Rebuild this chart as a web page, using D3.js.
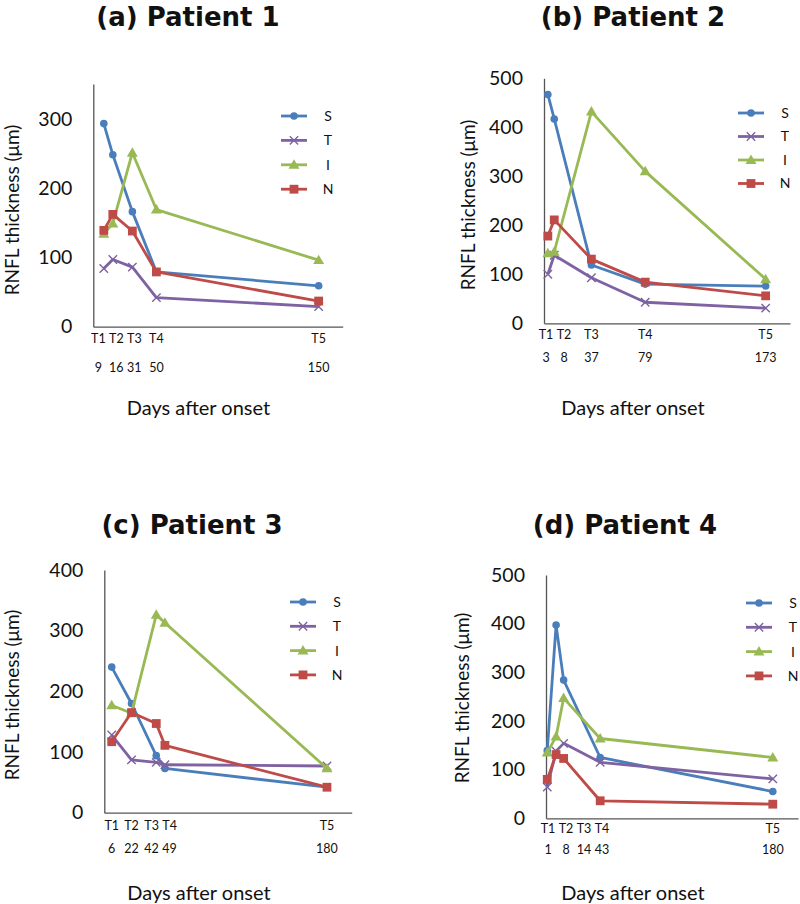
<!DOCTYPE html>
<html><head><meta charset="utf-8">
<script src="https://cdn.jsdelivr.net/npm/d3@7"></script>
<style>
body{margin:0;background:#fff}
svg text{font-family:Lato,"Open Sans",sans-serif;fill:#111}
</style>
</head><body>
<svg id="chart" width="800" height="904"></svg>
<script>
// ---------- data ----------
const titles = ["(a) Patient 1", "(b) Patient 2", "(c) Patient 3", "(d) Patient 4"];
const seriesNames = ["S", "T", "I", "N"];
const timepoints = ["T1", "T2", "T3", "T4", "T5"];

const daysA = ["9", "16", "31", "50", "150"];
const daysB = ["3", "8", "37", "79", "173"];
const daysC = ["6", "22", "42", "49", "180"];
const daysD = ["1", "8", "14", "43", "180"];

// plotted x positions (days axis units)
const xA = [7, 13, 26, 42, 150];
const xB = [3, 8, 37, 79, 173];
const xC = [6, 22, 42, 49, 180];
const xD = [1, 8, 14, 43, 180];

const xMaxA = 166, xMaxB = 192, xMaxC = 200, xMaxD = 200;
const yMaxA = 350, yMaxB = 500, yMaxC = 400, yMaxD = 500;
const yTicksA = [0, 100, 200, 300];
const yTicksB = [0, 100, 200, 300, 400, 500];
const yTicksC = [0, 100, 200, 300, 400];
const yTicksD = [0, 100, 200, 300, 400, 500];

const sA = [293, 248, 166, 79, 59];
const tA = [84, 97, 86, 42, 29];
const iA = [134, 149, 251, 169, 96];
const nA = [139, 162, 138, 79, 37];

const sB = [467, 417, 119, 80, 76];
const tB = [100, 139, 93, 43, 31];
const iB = [143, 146, 432, 310, 90];
const nB = [178, 211, 131, 84, 56];

const sC = [240, 180, 94, 73, 42];
const tC = [128, 87, 83, 79, 77];
const iC = [177, 164, 326, 313, 73];
const nC = [117, 165, 147, 111, 42];

const sD = [139, 397, 284, 125, 55];
const tD = [64, 138, 154, 115, 81];
const iD = [135, 168, 247, 164, 125];
const nD = [80, 131, 123, 36, 29];

const yTitle = "RNFL thickness (\u03bcm)";
const xTitle = "Days after onset";

// ---------- styling / layout ----------
const colors = {S: "#4A7EBB", T: "#7E62A1", I: "#98B954", N: "#BE4B48"};
const markers = {S: "circle", T: "x", I: "triangle", N: "square"};

const layout = [
  {left: 93.3, right: 342.7, zero: 326.7, top: 84.1, titleX: 188, titleY: 26, yTitleX: 12, yTitleY: 210,
   tRow: 12.3, dRow: 41.3, xtY: 81, xtX: 198.5, legX: 281, legY: 116, legDy: 24.4},
  {left: 544, right: 790, zero: 323.3, top: 78.3, titleX: 633, titleY: 26, yTitleX: 468, yTitleY: 205,
   tRow: 11.7, dRow: 34.7, xtY: 85, xtX: 633, legX: 738, legY: 113, legDy: 23.5},
  {left: 104.3, right: 351.7, zero: 812.7, top: 570, titleX: 192, titleY: 534, yTitleX: 12, yTitleY: 695,
   tRow: 13.3, dRow: 36.3, xtY: 80, xtX: 199, legX: 290, legY: 602, legDy: 24.3},
  {left: 546, right: 798, zero: 818.3, top: 575, titleX: 625, titleY: 534, yTitleX: 462, yTitleY: 698,
   tRow: 10.7, dRow: 31.7, xtY: 75, xtX: 633, legX: 746, legY: 603, legDy: 24.3}
];

const panels = [
  {x: xA, xMax: xMaxA, yMax: yMaxA, ticks: yTicksA, days: daysA, series: [sA, tA, iA, nA]},
  {x: xB, xMax: xMaxB, yMax: yMaxB, ticks: yTicksB, days: daysB, series: [sB, tB, iB, nB]},
  {x: xC, xMax: xMaxC, yMax: yMaxC, ticks: yTicksC, days: daysC, series: [sC, tC, iC, nC]},
  {x: xD, xMax: xMaxD, yMax: yMaxD, ticks: yTicksD, days: daysD, series: [sD, tD, iD, nD]}
];

const svg = d3.select("#chart");

function drawMarker(g, type, color, x, y) {
  if (type === "circle") {
    g.append("circle").attr("cx", x).attr("cy", y).attr("r", 3.8).attr("fill", color);
  } else if (type === "square") {
    g.append("rect").attr("x", x - 4.4).attr("y", y - 4.4).attr("width", 8.8).attr("height", 8.8).attr("fill", color);
  } else if (type === "triangle") {
    g.append("path").attr("d", d3.symbol(d3.symbolTriangle, 52)()).attr("transform", `translate(${x},${y + 0.8})`).attr("fill", color);
  } else if (type === "x") {
    g.append("path").attr("d", "M-4.2,-4.2L4.2,4.2M-4.2,4.2L4.2,-4.2").attr("transform", `translate(${x},${y})`)
      .attr("stroke", color).attr("stroke-width", 1.4).attr("fill", "none");
  }
}

// spread overlapping labels around their anchors, keep first label right of axis
function spreadLabels(anchors, gap, minX) {
  let clusters = [];
  anchors.forEach(a => {
    clusters.push({n: 1, sum: a, start: a});
    while (clusters.length > 1) {
      const c = clusters[clusters.length - 1], prev = clusters[clusters.length - 2];
      if (prev.start + (prev.n - 1) * gap + gap > c.start) {
        const merged = {n: prev.n + c.n, sum: prev.sum + c.sum};
        merged.start = merged.sum / merged.n - (merged.n - 1) * gap / 2;
        clusters.splice(-2, 2, merged);
      } else break;
    }
  });
  const out = [];
  let prevEnd = -Infinity;
  clusters.forEach((c, ci) => {
    let s = c.start;
    if (ci === 0 && s < minX) s = minX;
    if (s < prevEnd + gap) s = prevEnd + gap;
    for (let k = 0; k < c.n; k++) out.push(s + k * gap);
    prevEnd = out[out.length - 1];
  });
  return out;
}

panels.forEach((p, pi) => {
  const L = layout[pi];
  const g = svg.append("g");
  const x = d3.scaleLinear().domain([0, p.xMax]).range([L.left, L.right]);
  const y = d3.scaleLinear().domain([0, p.yMax]).range([L.zero, L.top]);

  // title
  g.append("text").attr("x", L.titleX).attr("y", L.titleY).attr("text-anchor", "middle")
    .style("font-family", "'DejaVu Sans', sans-serif")
    .style("font-weight", 700).style("font-size", "26px").text(titles[pi]);

  // axes
  const yAxis = d3.axisLeft(y).tickValues(p.ticks).tickSize(0).tickPadding(21);
  const ga = g.append("g").attr("transform", `translate(${L.left},0)`).call(yAxis);
  ga.select(".domain").attr("stroke", "#555").attr("stroke-width", 1.3);
  ga.selectAll("text").style("font-size", "19.5px").style("font-family", "Lato, 'Open Sans', sans-serif").attr("fill", "#111");

  const xAxis = d3.axisBottom(x).tickValues([]).tickSize(0);
  const gx = g.append("g").attr("transform", `translate(0,${L.zero})`).call(xAxis);
  gx.select(".domain").attr("stroke", "#555").attr("stroke-width", 1.3);

  // y title
  g.append("text").attr("transform", `translate(${L.yTitleX},${L.yTitleY}) rotate(-90)`)
    .attr("text-anchor", "middle").attr("dy", "0.35em").style("font-size", "19px").text(yTitle);

  // timepoint / day labels
  const lx = spreadLabels(p.x.map(v => x(v)), 18, L.left + 2);
  timepoints.forEach((t, i) => {
    g.append("text").attr("x", lx[i]).attr("y", L.zero + L.tRow).attr("dy", "0.35em")
      .attr("text-anchor", "middle").style("font-size", "12.5px").text(t);
    g.append("text").attr("x", lx[i]).attr("y", L.zero + L.dRow).attr("dy", "0.35em")
      .attr("text-anchor", "middle").style("font-size", "12.5px").text(p.days[i]);
  });

  g.append("text").attr("x", L.xtX).attr("y", L.zero + L.xtY).attr("dy", "0.35em")
    .attr("text-anchor", "middle").style("font-size", "20px").text(xTitle);

  // series
  const line = d3.line().x((d, i) => x(p.x[i])).y(d => y(d));
  p.series.forEach((vals, si) => {
    const name = seriesNames[si];
    const c = colors[name];
    g.append("path").datum(vals).attr("d", line).attr("fill", "none")
      .attr("stroke", c).attr("stroke-width", 2.8).attr("stroke-linejoin", "round");
    const mg = g.append("g");
    vals.forEach((v, i) => drawMarker(mg, markers[name], c, x(p.x[i]), y(v)));
  });

  // legend
  seriesNames.forEach((name, si) => {
    const ly = L.legY + si * L.legDy;
    const c = colors[name];
    g.append("line").attr("x1", L.legX).attr("x2", L.legX + 26).attr("y1", ly).attr("y2", ly)
      .attr("stroke", c).attr("stroke-width", 2.8);
    drawMarker(g, markers[name], c, L.legX + 13, ly);
    g.append("text").attr("x", L.legX + 47).attr("y", ly).attr("dy", "0.35em")
      .attr("text-anchor", "middle").style("font-size", "14px").text(name);
  });
});
</script>
</body></html>
